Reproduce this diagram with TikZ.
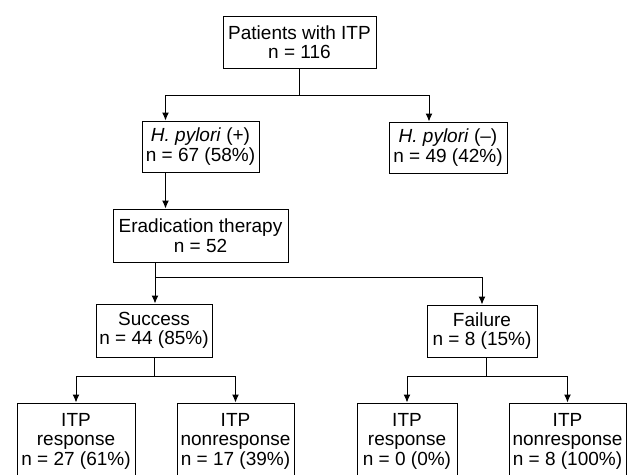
\documentclass[tikz,border=0pt]{standalone}
\usepackage{fontspec}
\setmainfont{Liberation Sans}
\usetikzlibrary{arrows.meta, positioning}

\tikzset{
    box/.style={draw, line width=1pt, inner sep=0pt, align=center,
        font=\fontsize{19}{19.5}\selectfont},
    link/.style={line width=1pt},
    arr/.style={link, -{Latex[length=8pt, width=7pt]}}
}

\begin{document}
\begin{tikzpicture}[x=1pt, y=-1pt]
        \useasboundingbox[fill=white] (0, 0) rectangle (629, 474);

        \node[box, minimum width=153pt, minimum height=52pt] (pat) at (299.5, 42) {Patients with ITP\\n = 116};
        \node[box, minimum width=117pt, minimum height=51pt] (hpos) at (200.5, 146.5) {\textit{H. pylori} (+)\\n = 67 (58\%)};
        \node[box, minimum width=118pt, minimum height=51pt] (hneg) at (448, 147.5) {\textit{H. pylori} (--)\\n = 49 (42\%)};
        \node[box, minimum width=175pt, minimum height=53pt] (erad) at (200.5, 235.5) {Eradication therapy\\n = 52};
        \node[box, minimum width=116pt, minimum height=53pt] (succ) at (154, 330.5) {Success\\n = 44 (85\%)};
        \node[box, minimum width=110pt, minimum height=52pt] (fail) at (482, 331) {Failure\\n = 8 (15\%)};

        \node[box, minimum width=118pt, minimum height=76pt] (sresp) at (76, 441) {ITP\\response\\n = 27 (61\%)};
        \node[box, minimum width=117pt, minimum height=76pt] (snon) at (235.5, 441) {ITP\\nonresponse\\n = 17 (39\%)};
        \node[box, minimum width=100pt, minimum height=76pt] (fresp) at (407, 441) {ITP\\response\\n = 0 (0\%)};
        \node[box, minimum width=117pt, minimum height=76pt] (fnon) at (567.5, 441) {ITP\\nonresponse\\n = 8 (100\%)};

        % patients -> H. pylori
        \draw [link] (pat.south) -- ++(0, 27) coordinate (j1);
        \draw [arr] (j1) -| ([xshift=-35pt]hpos.north);
        \draw [arr] (j1) -| ([xshift=-19pt]hneg.north);
        \draw [arr] ([xshift=-35pt]hpos.south) -- ([xshift=-35pt]hpos.south |- erad.north);

        % eradication -> outcome
        \draw [arr] ([xshift=-45.5pt]erad.south) coordinate (e1) -- (e1 |- succ.north);
        \coordinate (j2) at ([yshift=-15pt]e1);
        \draw [arr] (j2) -| (fail.north);

        % outcome -> ITP
        \draw [link] (succ.south) -- ++(0, 19) coordinate (j3);
        \draw [arr] (j3) -| (sresp.north);
        \draw [arr] (j3) -| (snon.north);
        \draw [link] ([xshift=4pt]fail.south) -- ++(0, 19) coordinate (j4);
        \draw [arr] (j4) -| (fresp.north);
        \draw [arr] (j4) -| (fnon.north);

    \end{tikzpicture}
\end{document}
